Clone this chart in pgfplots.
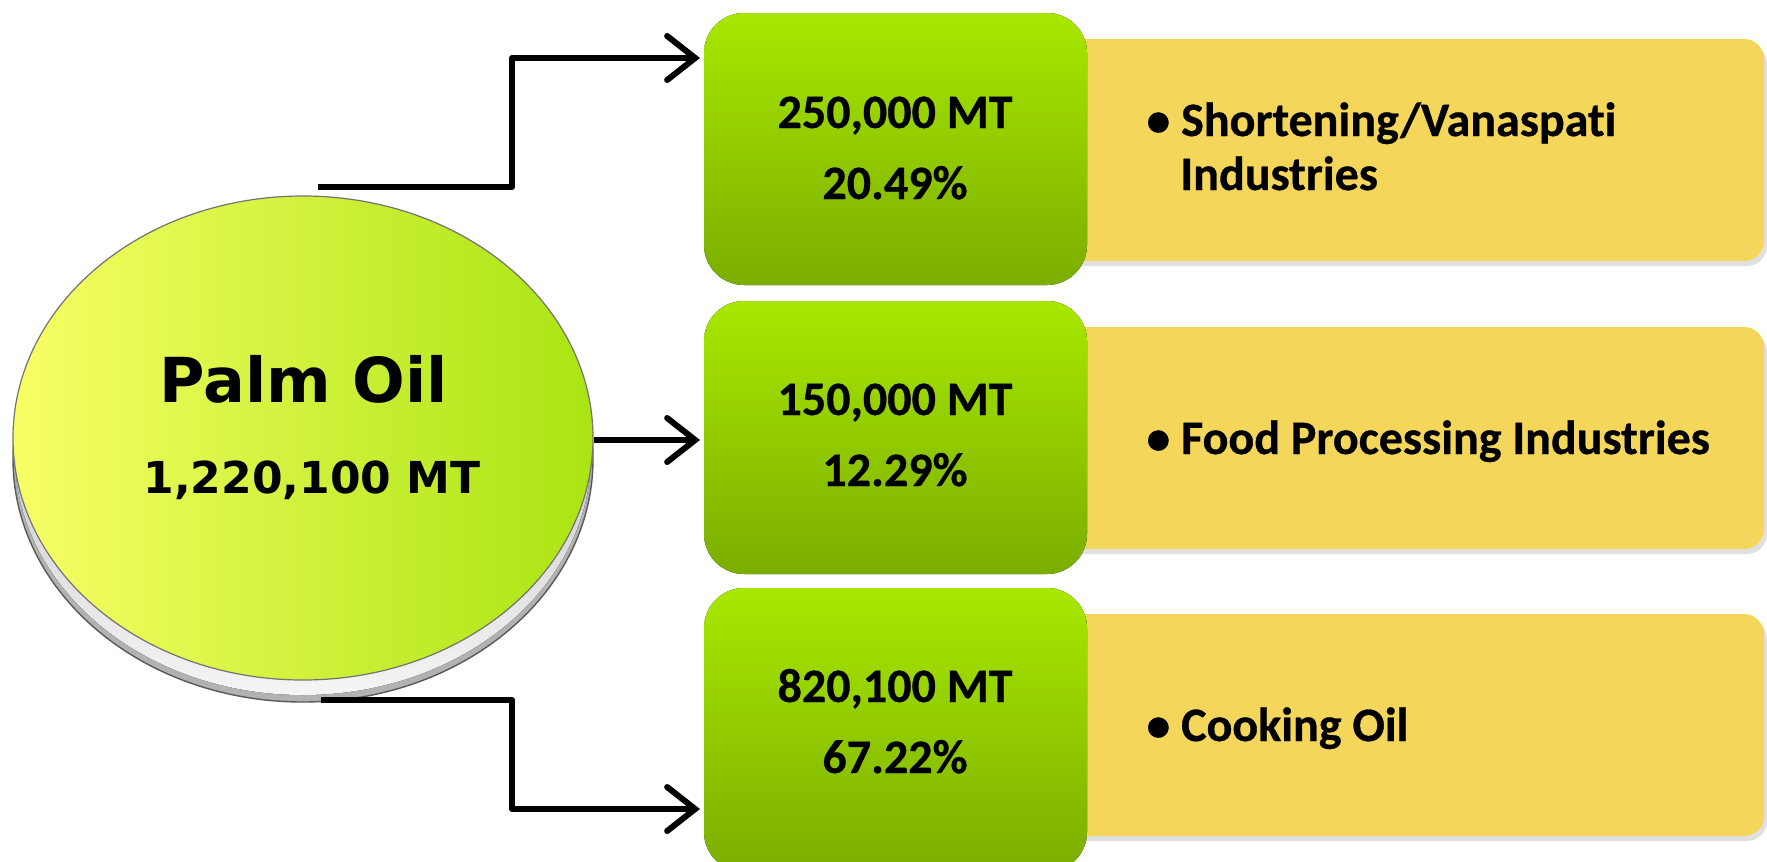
\documentclass[border=0pt]{standalone}
\usepackage{fontspec}
\setmainfont{Carlito}[Ligatures=NoCommon, Contextuals=NoAlternate,
  BoldFeatures={FakeBold=0.6, Ligatures=NoCommon, Contextuals=NoAlternate}]
\newfontfamily\dejavu{DejaVu Sans}
\usepackage{pgfplots}
\pgfplotsset{compat=1.18}
\usetikzlibrary{arrows.meta}

\definecolor{boxtop}{RGB}{168,232,0}
\definecolor{boxbot}{RGB}{122,174,0}
\definecolor{sand}{RGB}{244,214,90}
\definecolor{discL}{RGB}{248,255,102}
\definecolor{discR}{RGB}{170,228,18}

\tikzset{
  panel/.style={sand, rounded corners=10pt},
  panelshadow/.style={black!12, rounded corners=10pt},
  gbox/.style={top color=boxtop, bottom color=boxbot, rounded corners=20pt},
  link/.style={line width=3pt, line join=round,
    -{Straight Barb[length=14pt, width=22pt, line cap=round]}},
}

\begin{document}
\begin{tikzpicture}
\begin{axis}[
  width=883.5pt, height=431pt, scale only axis,
  xmin=0, xmax=1767, ymin=0, ymax=862, y dir=reverse,
  hide axis, clip=true
]
\path (axis cs:0,0) rectangle (axis cs:1767,862);

% yellow panels
\fill[panelshadow] (axis cs:1003,44) rectangle (axis cs:1767,266);
\fill[panel] (axis cs:1000,39) rectangle (axis cs:1764,261);
\fill[panelshadow] (axis cs:1003,332) rectangle (axis cs:1767,554);
\fill[panel] (axis cs:1000,327) rectangle (axis cs:1764,549);
\fill[panelshadow] (axis cs:1003,619) rectangle (axis cs:1767,841);
\fill[panel] (axis cs:1000,614) rectangle (axis cs:1764,836);

% green boxes
\fill[gbox] (axis cs:704,13) rectangle (axis cs:1087,285);
\fill[gbox] (axis cs:704,301) rectangle (axis cs:1087,574);
\fill[gbox] (axis cs:704,588) rectangle (axis cs:1087,872);

% disc: metal rim, then face
\draw[black!65, line width=0.7pt, fill=gray!60]
  (axis cs:303,459) ellipse [x radius=145pt, y radius=121.5pt];
\fill[top color=gray!70, bottom color=gray!8]
  (axis cs:303,455) ellipse [x radius=144pt, y radius=120pt];
\draw[black!55, line width=0.6pt, left color=discL, right color=discR]
  (axis cs:303,438) ellipse [x radius=145pt, y radius=121pt];

% connectors
\draw[link] (axis cs:318,187) -- (axis cs:512,187) -- (axis cs:512,58) -- (axis cs:700,58);
\draw[link] (axis cs:594,440) -- (axis cs:700,440);
\draw[link] (axis cs:321,700) -- (axis cs:512,700) -- (axis cs:512,809) -- (axis cs:700,809);

% disc labels
\addplot[only marks, mark=none, point meta=explicit symbolic,
  nodes near coords={\pgfplotspointmeta},
  every node near coord/.append style={anchor=base, inner sep=0pt,
    font=\dejavu\bfseries\fontsize{31pt}{36pt}\selectfont}]
  coordinates {(304,402) [Palm Oil]};
\addplot[only marks, mark=none, point meta=explicit symbolic,
  nodes near coords={\pgfplotspointmeta},
  every node near coord/.append style={anchor=base, inner sep=0pt,
    font=\dejavu\bfseries\fontsize{22pt}{26pt}\selectfont}]
  coordinates {(312,493) [1,220,100 MT]};

% amounts and shares
\addplot[only marks, mark=none, point meta=explicit symbolic,
  nodes near coords={\pgfplotspointmeta},
  every node near coord/.append style={anchor=base, inner sep=0pt,
    font=\bfseries\fontsize{24pt}{28pt}\selectfont}]
  coordinates {
    (895,128) [250,000 MT] (895,199) [20.49\%]
    (895,415) [150,000 MT] (895,486) [12.29\%]
    (895,702) [820,100 MT] (895,773) [67.22\%]
  };

% uses
\addplot[only marks, mark=none, point meta=explicit symbolic,
  nodes near coords={\pgfplotspointmeta},
  every node near coord/.append style={anchor=base west, inner sep=0pt,
    font=\bfseries\fontsize{24pt}{28pt}\selectfont}]
  coordinates {
    (1146,136) [• Shortening/Vanaspat\kern0pt i] (1180,190) [Industries]
    (1146,454) [• Food Processing Industries]
    (1146,741) [• Cooking Oil]
  };
\end{axis}
\end{tikzpicture}
\end{document}
